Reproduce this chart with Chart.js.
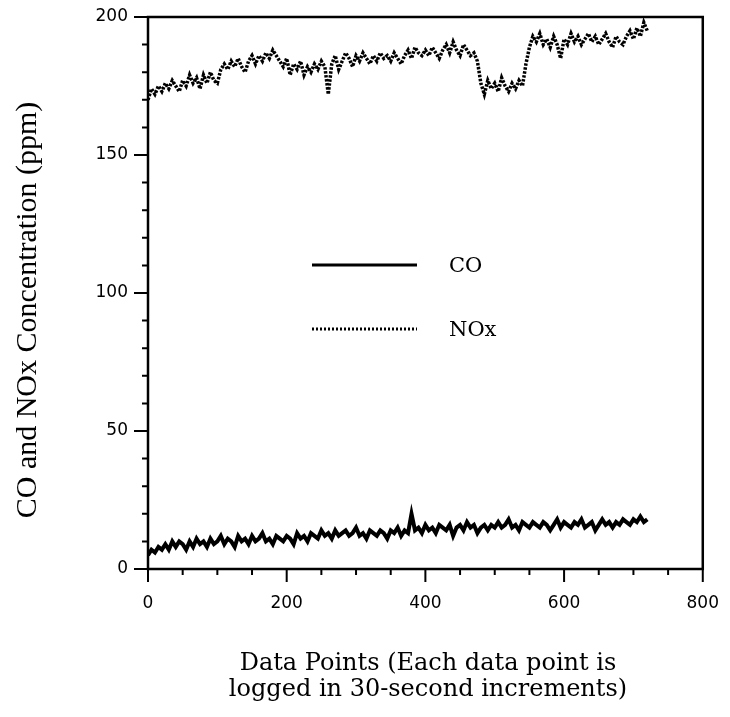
<!DOCTYPE html>
<html>
<head>
<meta charset="utf-8">
<script src="https://cdn.jsdelivr.net/npm/chart.js@4.4.1/dist/chart.umd.min.js"></script>
<style>
  html, body { margin: 0; padding: 0; background: #ffffff; }
  #wrap { width: 730px; height: 717px; }
</style>
</head>
<body>
<div id="wrap"><canvas id="c" width="730" height="717"></canvas></div>
<script>
// ---- data (one value every 5 data points) ----
const SAMPLE_STEP = 5;
const seriesNames = ["CO", "NOx"];
const noxValues = [
  170,174,172,175,173,176,174,177,175,173,
  177,175,179,176,178,174,179,176,180,177,
  176,181,183,181,184,182,185,182,180,184,
  186,183,186,184,187,185,188,186,184,182,
  185,179,183,181,184,179,182,180,183,181,
  184,182,172,183,186,181,184,187,185,182,
  186,184,187,185,183,186,184,187,185,186,
  184,187,185,183,186,188,185,189,187,186,
  188,186,189,187,185,188,190,187,191,188,
  186,190,188,186,187,184,176,172,177,174,
  176,173,178,175,173,176,174,177,175,183,
  189,193,191,194,190,192,189,193,190,185,
  192,190,194,191,193,190,192,194,191,193,
  190,192,194,191,189,193,191,190,193,195,
  192,196,193,198,195
];
const coValues = [
  5,7,6,8,7,9,7,10,8,10,
  9,7,10,8,11,9,10,8,11,9,
  10,12,9,11,10,8,12,10,11,9,
  12,10,11,13,10,11,9,12,11,10,
  12,11,9,13,11,12,10,13,12,11,
  14,12,13,11,14,12,13,14,12,13,
  15,12,13,11,14,13,12,14,13,11,
  14,13,15,12,14,13,20,14,15,13,
  16,14,15,13,16,15,14,16,12,15,
  16,14,17,15,16,13,15,16,14,16,
  15,17,15,16,18,15,16,14,17,16,
  15,17,16,15,17,16,14,16,18,15,
  17,16,15,17,16,18,15,16,17,14,
  16,18,16,17,15,17,16,18,17,16,
  18,17,19,17,18
];
const xTickLabels = [0, 200, 400, 600, 800];
const yTickLabels = [0, 50, 100, 150, 200];
const xTitleLines = ["Data Points (Each data point is", "logged in 30-second increments)"];
const yTitle = "CO and NOx Concentration (ppm)";

function toXY(vals) {
  return vals.map((v, i) => ({ x: i * SAMPLE_STEP, y: v }));
}

const TICK_FONT = "DejaVu Sans";
const plotFrame = {
  id: 'plotFrame',
  afterDraw(chart) {
    const ctx = chart.ctx;
    const a = chart.chartArea;
    const xs = chart.scales.x, ys = chart.scales.y;
    ctx.save();
    ctx.strokeStyle = '#000';
    ctx.lineWidth = 2.5;
    ctx.strokeRect(a.left, a.top, a.right - a.left, a.bottom - a.top);
    // ticks
    ctx.lineWidth = 2;
    ctx.beginPath();
    ys.ticks.forEach(t => {
      const p = ys.getPixelForValue(t.value);
      const len = yTickLabels.includes(t.value) ? 14 : 6;
      ctx.moveTo(a.left, p); ctx.lineTo(a.left - len, p);
    });
    xs.ticks.forEach(t => {
      const p = xs.getPixelForValue(t.value);
      const len = xTickLabels.includes(t.value) ? 13 : 6;
      ctx.moveTo(p, a.bottom); ctx.lineTo(p, a.bottom + len);
    });
    ctx.stroke();
    // legend inside plot
    const lx0 = 312, lx1 = 417, tx = 449;
    const rows = [
      { y: 265, dash: [], w: 3, label: seriesNames[0] },
      { y: 329, dash: [2, 2], w: 3, label: seriesNames[1] }
    ];
    rows.forEach(r => {
      ctx.beginPath();
      ctx.setLineDash(r.dash);
      ctx.lineWidth = r.w;
      ctx.moveTo(lx0, r.y); ctx.lineTo(lx1, r.y);
      ctx.stroke();
      ctx.setLineDash([]);
      ctx.fillStyle = '#000';
      ctx.font = '21px "DejaVu Serif"';
      ctx.textBaseline = 'middle';
      ctx.textAlign = 'left';
      ctx.fillText(r.label, tx, r.y + 2);
    });
    // axis titles
    ctx.fillStyle = '#000';
    ctx.font = '24px "DejaVu Serif"';
    ctx.textAlign = 'center';
    ctx.textBaseline = 'alphabetic';
    ctx.fillText(xTitleLines[0], 428, 670);
    ctx.fillText(xTitleLines[1], 428, 696);
    ctx.save();
    ctx.translate(28, 310);
    ctx.rotate(-Math.PI / 2);
    ctx.font = '30px "Liberation Serif"';
    ctx.textBaseline = 'middle';
    ctx.fillText(yTitle, 0, 0);
    ctx.restore();
    ctx.restore();
  }
};

new Chart(document.getElementById('c'), {
  type: 'line',
  data: {
    datasets: [
      { label: seriesNames[0], data: toXY(coValues), borderColor: '#000', borderWidth: 4,
        pointRadius: 0, tension: 0, fill: false },
      { label: seriesNames[1], data: toXY(noxValues), borderColor: '#000', borderWidth: 3.5,
        borderDash: [2.5, 1.5], pointRadius: 0, tension: 0, fill: false }
    ]
  },
  options: {
    responsive: false,
    animation: false,
    devicePixelRatio: 1,
    layout: { padding: { top: 17, right: 20, left: 0, bottom: 0 } },
    plugins: { legend: { display: false }, tooltip: { enabled: false }, title: { display: false } },
    scales: {
      x: {
        type: 'linear', min: 0, max: 800,
        afterFit(s) { s.height = 148; },
        border: { display: false },
        grid: { display: true, drawOnChartArea: false, drawTicks: true, tickLength: 13, color: 'rgba(0,0,0,0)' },
        ticks: {
          stepSize: 50, autoSkip: false, maxRotation: 0, padding: 11, color: '#000',
          font: { family: TICK_FONT, size: 17 },
          callback: v => xTickLabels.includes(v) ? String(v) : ''
        }
      },
      y: {
        min: 0, max: 200,
        afterFit(s) { s.width = 148; },
        border: { display: false },
        grid: { display: true, drawOnChartArea: false, drawTicks: true, tickLength: 14, color: 'rgba(0,0,0,0)' },
        ticks: {
          stepSize: 10, autoSkip: false, padding: 6, color: '#000',
          font: { family: TICK_FONT, size: 17 },
          callback: v => yTickLabels.includes(v) ? String(v) : ''
        }
      }
    }
  },
  plugins: [plotFrame]
});
</script>
</body>
</html>
